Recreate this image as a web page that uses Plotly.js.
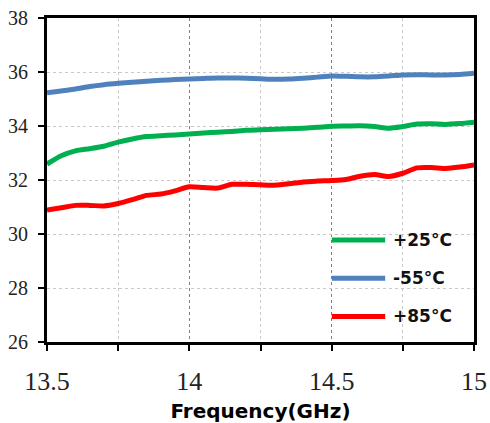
<!DOCTYPE html>
<html>
<head>
<meta charset="utf-8">
<script src="https://cdn.plot.ly/plotly-3.0.1.min.js"></script>
<style>html,body{margin:0;padding:0;background:#fff;}#chart{width:490px;height:423px;}</style>
</head>
<body>
<div id="chart"></div>
<script>
var freq = [13.50,13.55,13.60,13.65,13.70,13.75,13.80,13.85,13.90,13.95,14.00,14.05,14.10,14.15,14.20,14.25,14.30,14.35,14.40,14.45,14.50,14.55,14.60,14.65,14.70,14.75,14.80,14.85,14.90,14.95,15.00];
var seriesNames = ["+25°C", "-55°C", "+85°C"];
var gainP25 = [32.59,32.90,33.08,33.16,33.25,33.40,33.52,33.61,33.64,33.67,33.70,33.74,33.77,33.80,33.84,33.86,33.88,33.90,33.92,33.95,33.99,34.00,34.01,33.98,33.92,33.98,34.07,34.08,34.06,34.09,34.14];
var gainM55 = [35.23,35.30,35.37,35.46,35.53,35.58,35.62,35.66,35.69,35.72,35.74,35.76,35.78,35.78,35.77,35.75,35.73,35.74,35.77,35.81,35.85,35.84,35.82,35.82,35.85,35.89,35.90,35.89,35.89,35.91,35.95];
var gainP85 = [30.89,30.97,31.06,31.06,31.04,31.13,31.27,31.43,31.48,31.60,31.75,31.72,31.70,31.84,31.84,31.82,31.81,31.86,31.93,31.96,31.98,32.02,32.14,32.20,32.13,32.25,32.45,32.46,32.43,32.48,32.56];
var colors = ["#00B050", "#4F81BD", "#FF0000"];
var allSeries = [gainP25, gainM55, gainP85];

var traces = allSeries.map(function(s, i){
  return {x: freq, y: s, type: 'scatter', mode: 'lines', name: seriesNames[i],
    line: {color: colors[i], width: 5, shape: 'spline', smoothing: 0.7}, showlegend: false, hoverinfo: 'x+y+name'};
});

var legY = [0.315, 0.197, 0.079];
var shapes = [], annotations = [];
seriesNames.forEach(function(n, i){
  shapes.push({type: 'line', xref: 'paper', yref: 'paper', x0: 0.667, x1: 0.792, y0: legY[i], y1: legY[i],
    line: {color: colors[i], width: 5}});
  annotations.push({xref: 'paper', yref: 'paper', x: 0.805, y: legY[i], xanchor: 'left', yanchor: 'middle',
    text: n, showarrow: false, font: {family: 'DejaVu Sans', size: 17, color: '#111', weight: 'bold'}});
});

var layout = {
  width: 490, height: 423,
  margin: {l: 47, r: 16, t: 18, b: 81},
  paper_bgcolor: '#fff', plot_bgcolor: '#fff',
  showlegend: false,
  xaxis: {
    range: [13.5, 15], dtick: 0.5, tick0: 13.5,
    tickvals: [13.5, 14, 14.5, 15], ticktext: ['13.5', '14', '14.5', '15'],
    showline: true, linewidth: 3, linecolor: '#000', mirror: true,
    ticks: 'outside', ticklen: 6, tickwidth: 1.5, tickcolor: '#000',
    ticklabelstandoff: 8,
    showgrid: true, gridcolor: '#7f7f7f', griddash: 'dot', gridwidth: 1,
    minor: {dtick: 0.25, tick0: 13.5, showgrid: true, gridcolor: '#c8c8c8', griddash: 'dot', gridwidth: 1,
      ticks: 'outside', ticklen: 6, tickwidth: 1.5, tickcolor: '#000'},
    tickfont: {family: 'Liberation Serif', size: 26, color: '#222'},
    zeroline: false,
    title: {text: 'Frequency(GHz)', font: {family: 'DejaVu Sans', size: 20, color: '#000', weight: 'bold'}, standoff: 11}
  },
  yaxis: {
    range: [26, 38], dtick: 2, tick0: 26,
    showline: true, linewidth: 3, linecolor: '#000', mirror: true,
    ticks: 'outside', ticklen: 6, tickwidth: 1.5, tickcolor: '#000',
    ticklabelstandoff: 6,
    showgrid: true, gridcolor: '#c8c8c8', griddash: 'dot', gridwidth: 1,
    tickfont: {family: 'Liberation Serif', size: 20, color: '#222'},
    zeroline: false
  },
  shapes: shapes,
  annotations: annotations
};
Plotly.newPlot('chart', traces, layout, {displayModeBar: false, responsive: false});
</script>
</body>
</html>
